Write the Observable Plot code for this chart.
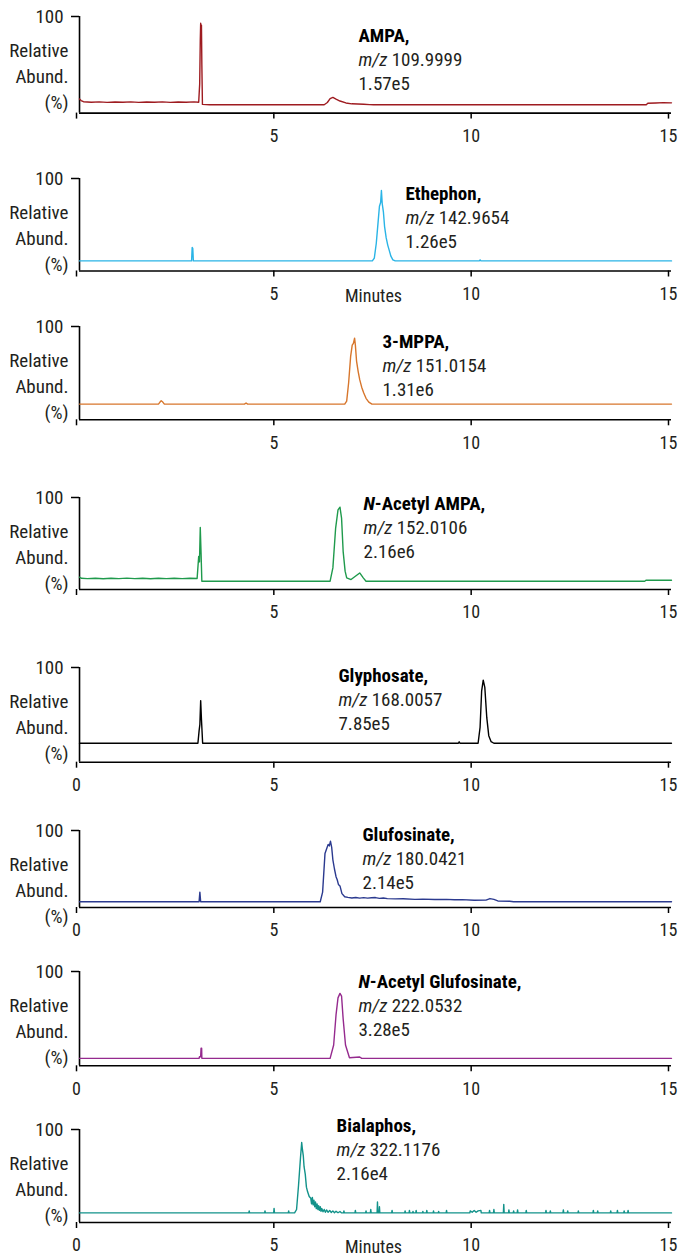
<!DOCTYPE html>
<html><head><meta charset="utf-8">
<script src="https://cdn.jsdelivr.net/npm/d3@7"></script>
<script src="https://cdn.jsdelivr.net/npm/@observablehq/plot@0.6"></script>
<style>
body{margin:0;background:#fff;}
#chart{position:relative;width:684px;height:1257px;overflow:hidden;}
#chart svg{position:absolute;left:0;overflow:visible;}
</style></head><body><div id="chart"></div>
<script>
// ---------- data (time in minutes, relative abundance in % of axis span) ----------
const compounds = ["AMPA,", "Ethephon,", "3-MPPA,", "N-Acetyl AMPA,", "Glyphosate,", "Glufosinate,", "N-Acetyl Glufosinate,", "Bialaphos,"];
const mzValues = ["109.9999", "142.9654", "151.0154", "152.0106", "168.0057", "180.0421", "222.0532", "322.1176"];
const intensities = ["1.57e5", "1.26e5", "1.31e6", "2.16e6", "7.85e5", "2.14e5", "3.28e5", "2.16e4"];
const colors = ["#9e1b20", "#2ab4e6", "#d7762c", "#1f9a4c", "#000000", "#2b3a8f", "#952a8e", "#12928a"];
const xTickValues = [0, 5, 10, 15];
const yTickValues = [100];
const axisTitleLines = ["Relative", "Abund.", "(%)"];
const timeLabel = "Minutes";

const ampa = [[0,14.5],[0.04,13],[0.1,11.8],[0.3,11.3],[0.5,11.6],[0.7,11.1],[0.9,11.5],[1.1,11.2],[1.3,11.6],[1.5,11.1],[1.7,11.5],[1.9,11.2],[2.1,11.6],[2.3,11.1],[2.5,11.5],[2.7,11.2],[2.9,11.6],[3.02,11.2],[3.045,30],[3.06,75],[3.07,93],[3.08,88],[3.09,91],[3.1,50],[3.115,9],[3.3,8.6],[6.2,8.6],[6.28,11],[6.35,15],[6.42,16.2],[6.5,14.5],[6.6,12.5],[6.75,10.5],[6.9,9.6],[7.2,9.2],[7.35,8.8],[7.45,8.6],[14.36,8.6],[14.4,10.2],[14.6,10.5],[14.8,10.8],[15,10.6]];
const ethephon = [[0,10.9],[2.84,10.9],[2.855,25.4],[2.87,24.5],[2.885,10.9],[7.42,10.9],[7.47,14],[7.52,30],[7.57,55],[7.6,70],[7.63,74],[7.65,87],[7.67,73],[7.7,64],[7.73,48],[7.77,36],[7.81,28],[7.85,22],[7.89,16],[7.94,12],[8.0,10.9],[10.13,10.9],[10.15,12],[10.17,10.9],[15,10.9]];
const mppa = [[0,16.8],[2.0,16.8],[2.04,19],[2.07,20.4],[2.11,19],[2.15,16.8],[4.18,16.8],[4.22,18],[4.26,16.8],[6.72,16.8],[6.77,20],[6.82,40],[6.87,68],[6.91,80],[6.94,82],[6.97,87.5],[6.99,80],[7.02,63],[7.06,52],[7.1,43],[7.15,35],[7.2,29],[7.26,23],[7.33,19],[7.41,16.8],[15,16.8]];
const nAcetylAmpa = [[0,13.4],[0.05,12.2],[0.2,11.8],[0.4,12.3],[0.6,11.7],[0.8,12.2],[1.0,11.8],[1.2,12.4],[1.4,11.8],[1.6,12.2],[1.8,11.7],[2.0,12.3],[2.2,11.8],[2.4,12.2],[2.6,11.8],[2.8,12.3],[2.98,11.9],[3.02,36],[3.04,30],[3.06,67.5],[3.08,40],[3.1,9],[6.35,9],[6.42,23.5],[6.49,66.8],[6.55,86.6],[6.6,89.5],[6.64,77.6],[6.68,41.5],[6.73,19.9],[6.77,12.6],[6.88,10.8],[6.99,14.4],[7.1,18],[7.19,12.6],[7.26,9],[14.32,9],[14.36,10.1],[15,10.1]];
const glyphosate = [[0,20],[3.0,20],[3.03,33],[3.05,40],[3.07,65],[3.09,45],[3.12,20],[9.6,20],[9.62,21.5],[9.64,20],[10.1,20],[10.15,36.8],[10.19,75.4],[10.23,86.7],[10.27,79],[10.32,47],[10.37,28],[10.43,21.7],[10.5,20],[15,20]];
const glufosinate = [[0,7.5],[3.03,7.5],[3.05,20],[3.07,7.5],[6.1,7.5],[6.16,20],[6.22,70],[6.26,76],[6.3,82],[6.33,80],[6.36,86],[6.39,78],[6.42,62],[6.46,50],[6.5,40],[6.53,36],[6.56,30],[6.6,28],[6.65,18],[6.72,14],[6.8,13.2],[6.9,12.4],[7.0,13],[7.1,12.2],[7.2,12.8],[7.3,12.2],[7.4,12.6],[7.5,12.9],[7.6,11.9],[7.7,12.3],[7.8,11.5],[8.0,11.2],[8.2,11.4],[8.5,10.6],[8.7,10.9],[9.0,10.3],[9.3,10.5],[9.5,10],[9.7,10.2],[10.0,9.5],[10.3,9.6],[10.4,11.6],[10.5,10.5],[10.6,8.5],[10.9,8.1],[11.0,7.5],[15,7.5]];
const nAcetylGlufosinate = [[0,7.9],[3.03,7.9],[3.04,9.6],[3.07,9.6],[3.08,18.6],[3.095,18.6],[3.1,7.9],[6.35,7.9],[6.44,22],[6.5,54],[6.55,72],[6.6,76.8],[6.64,74],[6.68,50],[6.74,22],[6.84,8.6],[7.1,9.3],[7.15,7.9],[15,7.9]];
const bialaphos = [[0,10.3],[4.29,10.3],[4.3,12.5],[4.31,10.3],[4.69,10.3],[4.7,12.5],[4.71,10.3],[4.92,10.3],[4.93,15.2],[4.94,10.3],[5.29,10.3],[5.3,12.5],[5.31,10.3],[5.45,10.3],[5.5,14],[5.55,40],[5.6,70],[5.63,86],[5.65,78],[5.67,72],[5.69,60],[5.72,52],[5.75,38],[5.78,33],[5.82,28],[5.86,26],[5.88,20],[5.9,27],[5.92,19],[5.94,24],[5.96,17],[5.98,22],[6.0,15],[6.02,20],[6.04,14],[6.06,18],[6.08,13],[6.1,17],[6.12,12],[6.14,15],[6.17,11.5],[6.2,14],[6.23,11],[6.26,13.5],[6.3,11],[6.34,13],[6.38,10.8],[6.42,12.5],[6.46,10.5],[6.5,12],[6.55,10.5],[6.6,11.8],[6.64,10.3],[6.69,10.3],[6.7,12.5],[6.71,10.3],[6.98,10.3],[6.99,13],[7.0,10.3],[7.25,10.3],[7.26,12.5],[7.27,10.3],[7.37,10.3],[7.38,14],[7.39,10.3],[7.54,10.3],[7.55,22],[7.56,10.3],[7.59,10.3],[7.6,17],[7.61,10.3],[7.91,10.3],[7.92,13],[7.93,10.3],[8.24,10.3],[8.25,12.5],[8.26,10.3],[8.35,10.3],[8.36,13],[8.37,10.3],[8.44,10.3],[8.45,12],[8.46,10.3],[8.52,10.3],[8.53,13],[8.54,10.3],[8.69,10.3],[8.7,12],[8.71,10.3],[8.79,10.3],[8.8,13],[8.81,10.3],[8.96,10.3],[8.97,12.5],[8.98,10.3],[9.09,10.3],[9.1,12],[9.11,10.3],[9.29,10.3],[9.3,13],[9.31,10.3],[9.89,10.3],[9.9,12.5],[9.95,11],[10.0,13],[10.05,11],[10.1,12.5],[10.17,13],[10.18,10.3],[10.38,10.3],[10.39,13],[10.4,10.3],[10.49,10.3],[10.5,14],[10.51,10.3],[10.74,10.3],[10.75,19.5],[10.76,10.3],[10.87,10.3],[10.88,13.5],[10.89,10.3],[10.99,10.3],[11.0,12.5],[11.01,10.3],[11.09,10.3],[11.1,13.5],[11.11,10.3],[11.31,10.3],[11.32,13],[11.33,10.3],[11.81,10.3],[11.82,13],[11.83,10.3],[11.92,10.3],[11.93,12.5],[11.94,10.3],[12.25,10.3],[12.26,13.5],[12.27,10.3],[12.36,10.3],[12.37,12.5],[12.38,10.3],[12.63,10.3],[12.64,12.5],[12.65,10.3],[13.01,10.3],[13.02,13],[13.03,10.3],[13.12,10.3],[13.13,12.5],[13.14,10.3],[13.45,10.3],[13.46,12.5],[13.47,10.3],[13.62,10.3],[13.63,13],[13.64,10.3],[13.79,10.3],[13.8,12.5],[13.81,10.3],[13.89,10.3],[13.9,13],[13.91,10.3],[15,10.3]];
const traces = [ampa, ethephon, mppa, nAcetylAmpa, glyphosate, glufosinate, nAcetylGlufosinate, bialaphos];

// ---------- layout (pixel positions of each panel) ----------
const layout = [
  {top: 15.7,  axis: 112.3, zero: false, labelX: 358, nameDy: 19, minutes: false},
  {top: 177.5, axis: 270,   zero: false, labelX: 405, nameDy: 15, minutes: true},
  {top: 325.7, axis: 419,   zero: false, labelX: 382, nameDy: 15, minutes: false},
  {top: 496.5, axis: 588.5, zero: false, labelX: 363, nameDy: 6,  minutes: false},
  {top: 667,   axis: 761.7, zero: true,  labelX: 338, nameDy: 8,  minutes: false},
  {top: 829.5, axis: 906.5, zero: true,  labelX: 362, nameDy: 4,  minutes: false},
  {top: 970.7, axis: 1065,  zero: true,  labelX: 358, nameDy: 10, minutes: false},
  {top: 1129.3,axis: 1222.3,zero: true,  labelX: 336, nameDy: -4, minutes: true}
];

const FONT = '"Liberation Sans Narrow", "Roboto Condensed", "DejaVu Sans Condensed", Roboto, "Liberation Sans", sans-serif';
const FS = 19;
const TXT = "#231f20";
const ML = 79, MR = 13, MT = 30, MB = 40;
const LINE = 24;
const chart = document.getElementById("chart");

layout.forEach((L, i) => {
  const frameH = L.axis - L.top;
  const plot = Plot.plot({
    width: 684,
    height: MT + frameH + MB,
    marginLeft: ML, marginRight: MR, marginTop: MT, marginBottom: MB,
    style: {fontFamily: FONT, fontSize: FS + "px", color: TXT, background: "transparent", overflow: "visible"},
    x: {domain: [0, 15], axis: null},
    y: {domain: [0, 100], axis: null},
    marks: [
      Plot.axisX(xTickValues, {tickSize: 6, tickPadding: 10, fontSize: 18, dx: -3, strokeWidth: 1.5, stroke: "#000", fill: TXT, label: null,
        tickFormat: d => (d === 0 && !L.zero) ? "" : String(d)}),
      Plot.axisY(yTickValues, {tickSize: 8, tickPadding: 8, fontSize: FS, strokeWidth: 1.5, stroke: "#000", fill: TXT, label: null}),
      Plot.ruleY([0], {x1: 0, x2: 15, stroke: "#000", strokeWidth: 1.6}),
      Plot.ruleX([0], {y1: 0, y2: 100, stroke: "#000", strokeWidth: 1.6}),
      Plot.line(traces[i], {x: d => d[0], y: d => d[1], stroke: colors[i], strokeWidth: 1.4}),
      Plot.text([axisTitleLines[0]], {text: d => d, frameAnchor: "top-left", dx: -11, dy: 34, textAnchor: "end", lineAnchor: "middle", fontSize: FS, fill: TXT}),
      Plot.text([axisTitleLines[1]], {text: d => d, frameAnchor: "top-left", dx: -11, dy: 60, textAnchor: "end", lineAnchor: "middle", fontSize: FS, fill: TXT}),
      Plot.text([axisTitleLines[2]], {text: d => d, frameAnchor: "top-left", dx: -11, dy: 86, textAnchor: "end", lineAnchor: "middle", fontSize: FS, fill: TXT}),
      Plot.text([compounds[i]], {text: d => d, frameAnchor: "top-left", dx: L.labelX - ML, dy: L.nameDy, textAnchor: "start", lineAnchor: "middle", fontSize: FS, fontWeight: "bold", fill: "#000"}),
      Plot.text(["m/z " + mzValues[i]], {text: d => d, frameAnchor: "top-left", dx: L.labelX - ML, dy: L.nameDy + LINE, textAnchor: "start", lineAnchor: "middle", fontSize: FS, fill: TXT}),
      Plot.text([intensities[i]], {text: d => d, frameAnchor: "top-left", dx: L.labelX - ML, dy: L.nameDy + 2 * LINE, textAnchor: "start", lineAnchor: "middle", fontSize: FS, fill: TXT}),
      L.minutes ? Plot.text([timeLabel], {text: d => d, frameAnchor: "bottom", dx: -2, dy: 25, lineAnchor: "middle", fontSize: 18, fill: TXT}) : null
    ]
  });
  plot.style.top = (L.top - MT) + "px";
  // mixed styles: italic "m/z", bold-italic "N"
  plot.querySelectorAll("text").forEach(t => {
    const s = t.textContent;
    if (s.startsWith("m/z ")) {
      t.textContent = "";
      const a = document.createElementNS("http://www.w3.org/2000/svg", "tspan");
      a.setAttribute("font-style", "italic"); a.textContent = "m/z";
      const b = document.createElementNS("http://www.w3.org/2000/svg", "tspan");
      b.textContent = "\u00a0" + s.slice(4);
      t.appendChild(a); t.appendChild(b);
    } else if (s.startsWith("N-Acetyl")) {
      t.textContent = "";
      const a = document.createElementNS("http://www.w3.org/2000/svg", "tspan");
      a.setAttribute("font-style", "italic"); a.textContent = "N";
      const b = document.createElementNS("http://www.w3.org/2000/svg", "tspan");
      b.textContent = s.slice(1);
      t.appendChild(a); t.appendChild(b);
    }
  });
  chart.appendChild(plot);
});
</script></body></html>
